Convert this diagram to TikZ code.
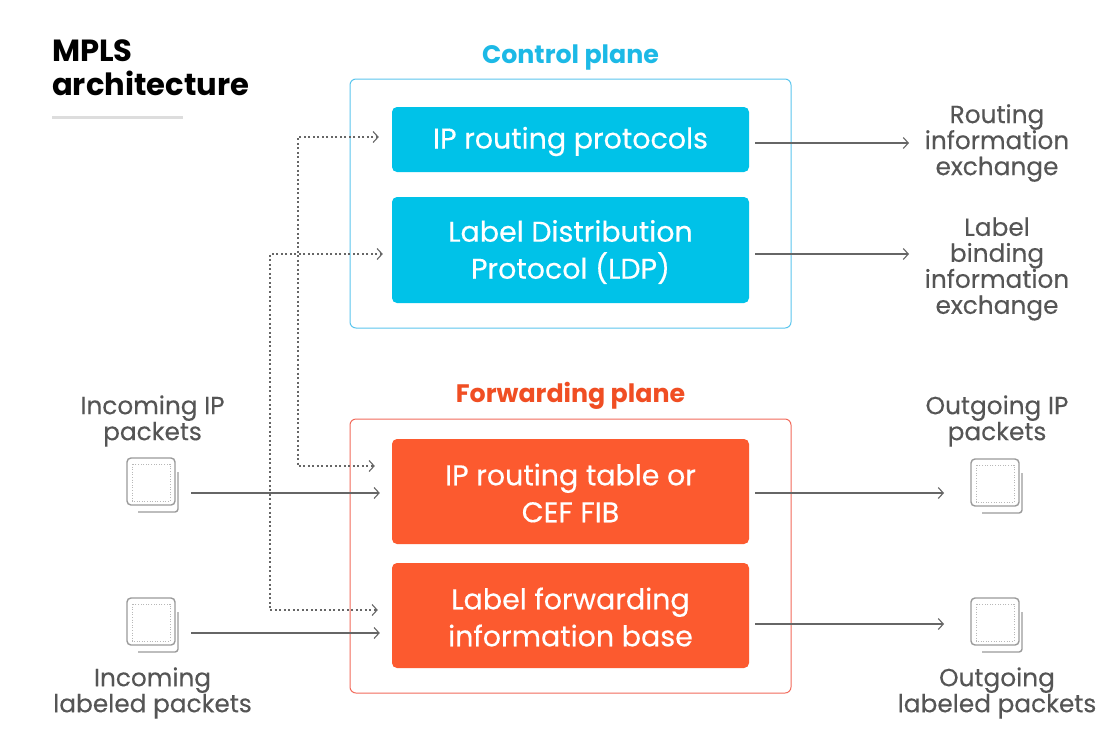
\documentclass[tikz,border=0pt]{standalone}
\usepackage{fontspec}
\setmainfont{Poppins}
\newfontfamily\boxfont{Poppins}[FakeBold=0.35]
\newfontfamily\lblfont{Poppins}[FakeBold=0.2]
\usetikzlibrary{arrows.meta}
\definecolor{cyanbox}{HTML}{00C2E8}
\definecolor{orangebox}{HTML}{FC5A2F}
\definecolor{cyanlbl}{HTML}{1CB9E6}
\definecolor{orangelbl}{HTML}{F04E23}
\definecolor{cyanline}{HTML}{5BC6EE}
\definecolor{redline}{HTML}{F26B5B}
\definecolor{txtgray}{HTML}{555555}
\definecolor{arrgray}{HTML}{666666}
\definecolor{icongray}{HTML}{9A9A9A}
\definecolor{rulegray}{HTML}{DDDDDD}
\tikzset{
  planebox/.style={draw, line width=1pt, rounded corners=6pt, minimum width=441pt, inner sep=0pt},
  fnbox/.style={rounded corners=5pt, minimum width=357pt, inner sep=0pt, text=white, align=center,
    font=\boxfont\fontsize{28.5}{37}\selectfont},
  fntext/.style={inner sep=0pt, text=white, align=center, font=\boxfont\fontsize{28.5}{37}\selectfont},
  planelbl/.style={font=\fontsize{25.3}{28}\selectfont\bfseries, inner sep=0pt},
  sidelbl/.style={text=txtgray, align=center, inner sep=0pt, font=\lblfont\fontsize{24.8}{26}\selectfont},
  conn/.style={draw=arrgray, line width=1.1pt, -{Straight Barb[length=5pt,width=11pt]}},
  dotconn/.style={draw=arrgray, line width=1.1pt, dash pattern=on 2pt off 2.5pt,
    {Straight Barb[length=5pt,width=11pt]}-{Straight Barb[length=5pt,width=11pt]}},
  packet/.pic={
    \draw[icongray, line width=1.4pt, rounded corners=4pt] (-24,-23) rectangle (24,24);
    \draw[icongray!70, line width=0.9pt, dash pattern=on 1pt off 1.6pt] (-19,-17) rectangle (19,20);
    \draw[icongray, line width=1.4pt, rounded corners=3pt] (27,-9) -- (27,31) -- (-13,31);
  }
}
\begin{document}
\begin{tikzpicture}[x=1pt,y=-1pt]
\useasboundingbox (0,0) rectangle (1115,750);
\fill[white] (0,0) rectangle (1115,750);

% title
\node[anchor=base west, inner sep=0pt, align=left, font=\fontsize{30.6}{34}\selectfont\bfseries] (title) at (52,95) {MPLS\\architecture};
\coordinate (rl1) at (52,117);
\coordinate (rl2) at (183,117);
\draw[rulegray, line width=3pt] (rl1) -- (rl2);

% planes
\node[planebox, draw=cyanline, minimum height=249pt] (cp) at (570.5,203.5) {};
\node[planebox, draw=redline, minimum height=274pt] (fp) at (570.5,556) {};
\node[planelbl, text=cyanlbl] (cpl) at (570.5,58) {Control plane};
\node[planelbl, text=orangelbl] (fpl) at (570.5,396) {Forwarding plane};

% function boxes
\node[fnbox, fill=cyanbox, minimum height=65pt] (irp) at (570.5,139.5) {};
\node[fnbox, fill=cyanbox, minimum height=106pt] (ldp) at (570.5,250) {};
\node[fnbox, fill=orangebox, minimum height=105pt] (irt) at (570.5,491.5) {};
\node[fnbox, fill=orangebox, minimum height=105pt] (lfib) at (570.5,615.5) {};
\node[fntext] (irpt) at ([yshift=-2pt]irp.center) {IP routing protocols};
\node[fntext] (ldpt) at ([yshift=-2pt]ldp.center) {Label Distribution\\Protocol (LDP)};
\node[fntext] (irtt) at ([yshift=-1.5pt]irt.center) {IP routing table or\\CEF FIB};
\node[fntext] (lfibt) at ([yshift=-1.5pt]lfib.center) {Label forwarding\\information base};

% side labels
\node[sidelbl] (rie) at (997,143) {Routing\\information\\exchange};
\node[sidelbl] (lbie) at (997,269) {Label\\binding\\information\\exchange};
\node[sidelbl] (inip) at (152.5,421) {Incoming IP\\packets};
\node[sidelbl] (inlp) at (152.5,693) {Incoming\\labeled packets};
\node[sidelbl] (outip) at (997,421) {Outgoing IP\\packets};
\node[sidelbl] (outlp) at (997,693) {Outgoing\\labeled packets};

% packet icons
\coordinate (pin1) at (151,481);
\coordinate (pin2) at (151,621);
\coordinate (pout1) at (995,482);
\coordinate (pout2) at (995,621);
\pic at (pin1) {packet};
\pic at (pin2) {packet};
\pic at (pout1) {packet};
\pic at (pout2) {packet};

% solid connectors
\coordinate (e1) at (909,143);
\coordinate (e2) at (909,254);
\draw[conn] ([xshift=6pt,yshift=-3.5pt]irp.east) -- (e1);
\draw[conn] ([xshift=6pt,yshift=-4pt]ldp.east) -- (e2);
\coordinate (s3) at (191,493);
\coordinate (s4) at (191,633);
\draw[conn] (s3) -- ([xshift=-12pt,yshift=-1.5pt]irt.west);
\draw[conn] (s4) -- ([xshift=-12pt,yshift=-17.5pt]lfib.west);
\coordinate (e5) at (944,493);
\coordinate (e6) at (944,624);
\draw[conn] ([xshift=6pt,yshift=-1.5pt]irt.east) -- (e5);
\draw[conn] ([xshift=6pt,yshift=-8.5pt]lfib.east) -- (e6);

% dotted connectors
\coordinate (v1) at (298,0);
\coordinate (v2) at (270,0);
\coordinate (d1a) at ([xshift=-13pt,yshift=2.5pt]irp.west);
\coordinate (d1b) at ([xshift=-17pt,yshift=25.5pt]irt.west);
\coordinate (d2a) at ([xshift=-9pt,yshift=-4pt]ldp.west);
\coordinate (d2b) at ([xshift=-14pt,yshift=5.5pt]lfib.west);
\draw[dotconn] (d1a) -| (v1 |- d1b) -- (d1b);
\draw[dotconn] (d2a) -| (v2 |- d2b) -- (d2b);
\end{tikzpicture}
\end{document}
